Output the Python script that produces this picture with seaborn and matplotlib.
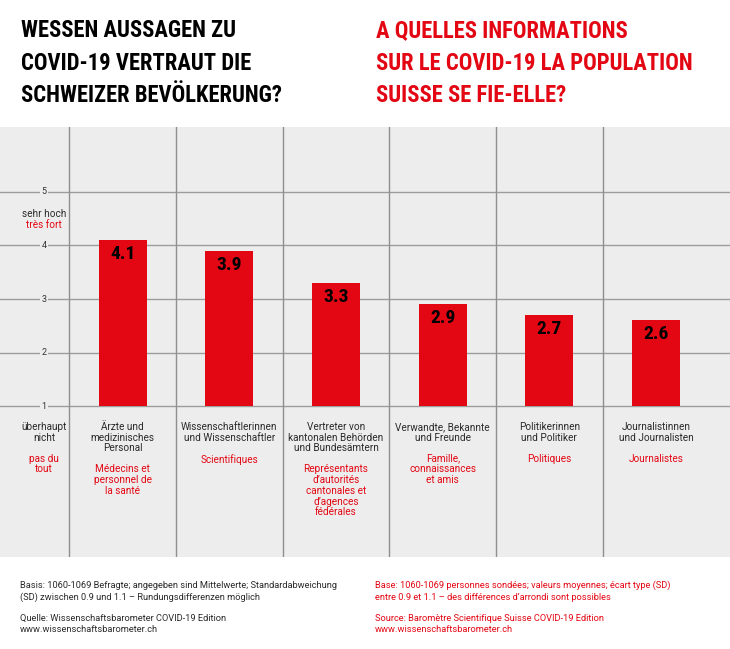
import numpy as np
import pandas as pd
import matplotlib
matplotlib.use("Agg")
import matplotlib.pyplot as plt
from matplotlib.patches import Rectangle
import seaborn as sns

# ---------------- data ----------------
categories = ["Ärzte", "Wissenschaft", "Behörden", "Verwandte", "Politik", "Journalismus"]
values = [4.1, 3.9, 3.3, 2.9, 2.7, 2.6]
labels_de = [
    "Ärzte und\nmedizinisches\nPersonal",
    "Wissenschaftlerinnen\nund Wissenschaftler",
    "Vertreter von\nkantonalen Behörden\nund Bundesämtern",
    "Verwandte, Bekannte\nund Freunde",
    "Politikerinnen\nund Politiker",
    "Journalistinnen\nund Journalisten",
]
labels_fr = [
    "Médecins et\npersonnel de\nla santé",
    "Scientifiques",
    "Représentants\nd’autorités\ncantonales et\nd’agences\nfédérales",
    "Famille,\nconnaissances\net amis",
    "Politiques",
    "Journalistes",
]
yticks = [1, 2, 3, 4, 5]
title_de = ["WESSEN AUSSAGEN ZU", "COVID-19 VERTRAUT DIE", "SCHWEIZER BEVÖLKERUNG?"]
title_fr = ["A QUELLES INFORMATIONS", "SUR LE COVID-19 LA POPULATION", "SUISSE SE FIE-ELLE?"]
note_de = ["Basis: 1060-1069 Befragte; angegeben sind Mittelwerte; Standardabweichung",
           "(SD) zwischen 0.9 und 1.1 – Rundungsdifferenzen möglich",
           "Quelle: Wissenschaftsbarometer COVID-19 Edition",
           "www.wissenschaftsbarometer.ch"]
note_fr = ["Base: 1060-1069 personnes sondées; valeurs moyennes; écart type (SD)",
           "entre 0.9 et 1.1 – des différences d’arrondi sont possibles",
           "Source: Baromètre Scientifique Suisse COVID-19 Edition",
           "www.wissenschaftsbarometer.ch"]

# ---------------- style ----------------
RED = "#E30613"
GRAY_BG = "#EDEDED"
DARK = "#2a2a2a"
plt.rcParams["font.family"] = ["Roboto", "DejaVu Sans"]
COND = ["Roboto Condensed", "Liberation Sans Narrow", "DejaVu Sans"]
LFS = 7.2

W, H = 730, 649
fig = plt.figure(figsize=(W / 100, H / 100), dpi=100)
fig.patch.set_facecolor("white")

top_px, bot_px = 127, 557
ax = fig.add_axes([0, (H - bot_px) / H, 1, (bot_px - top_px) / H])
ax.set_facecolor(GRAY_BG)

df = pd.DataFrame({"cat": categories, "val": values})
sns.barplot(data=df, x="cat", y="val", order=categories, color=RED, saturation=1,
            width=0.45, errorbar=None, ax=ax, zorder=3, edgecolor="none")

# axes geometry (pixel mapping)
step = 106.7
c0 = 122.6
ax.set_xlim(-c0 / step, (W - c0) / step)
ax.set_ylim(1 - (bot_px - 406.3) / 53.65, 5 + (191.7 - top_px) / 53.65)
for s in ax.spines.values():
    s.set_visible(False)
ax.set_xticks([])
ax.set_yticks([])
ax.set_xlabel("")
ax.set_ylabel("")

# bars start at baseline 1: clip everything below it
clip = Rectangle((-10, 1), 30, 20, transform=ax.transData)
for p in ax.patches:
    p.set_clip_path(clip)

# grid
for y in yticks:
    ax.axhline(y, color="#9c9c9c", lw=1.0, zorder=1)
for i in range(len(categories)):
    ax.axvline(i - 0.5, color="#8f8f8f", lw=1.0, zorder=1)

# y tick labels
ytr = ax.get_yaxis_transform()
xt = 44 / W
for y in yticks:
    ax.text(xt, y, str(y), transform=ytr, ha="center", va="center", fontsize=6.5,
            color="#333333", zorder=2,
            bbox=dict(boxstyle="square,pad=0.15", fc=GRAY_BG, ec="none"))
ax.annotate("sehr hoch", xy=(xt, 5), xycoords=ytr, xytext=(0, -17), textcoords="offset pixels",
            ha="center", va="top", fontsize=LFS, color=DARK)
ax.annotate("très fort", xy=(xt, 5), xycoords=ytr, xytext=(0, -28.5), textcoords="offset pixels",
            ha="center", va="top", fontsize=LFS, color=RED)

lh = 10.6
off0 = -15.5
ax.annotate("überhaupt\nnicht", xy=(xt, 1), xycoords=ytr, xytext=(0, off0), textcoords="offset pixels",
            ha="center", va="top", fontsize=LFS, color=DARK, linespacing=1.1)
ax.annotate("pas du\ntout", xy=(xt, 1), xycoords=ytr, xytext=(0, off0 - 3 * lh), textcoords="offset pixels",
            ha="center", va="top", fontsize=LFS, color=RED, linespacing=1.1)

# value labels and category labels
for i, (v, de, fr) in enumerate(zip(values, labels_de, labels_fr)):
    ax.text(i, v - 0.26, f"{v:.1f}", ha="center", va="center", fontsize=14,
            fontweight="bold", family=COND, fontstretch="condensed", color="black", zorder=4)
    n = de.count("\n") + 1
    ax.annotate(de, xy=(i, 1), xytext=(0, off0), textcoords="offset pixels",
                ha="center", va="top", fontsize=LFS, color=DARK, linespacing=1.1)
    ax.annotate(fr, xy=(i, 1), xytext=(0, off0 - (n + 1) * lh), textcoords="offset pixels",
                ha="center", va="top", fontsize=LFS, color=RED, linespacing=1.1)

# titles, fitted to reference widths
ys = [30.5, 63, 95.5]
tfs = 22
texts_de = [fig.text(21 / W, 1 - y / H, t, ha="left", va="center", fontsize=tfs,
                     fontweight="bold", family=COND, fontstretch="condensed", color="black")
            for t, y in zip(title_de, ys)]
texts_fr = [fig.text(376 / W, 1 - y / H, t, ha="left", va="center", fontsize=tfs,
                     fontweight="bold", family=COND, fontstretch="condensed", color=RED)
            for t, y in zip(title_fr, ys)]
fig.canvas.draw()
r = fig.canvas.get_renderer()
w_de = texts_de[2].get_window_extent(r).width
w_fr = texts_fr[1].get_window_extent(r).width
scale = min(266 / w_de, 317 / w_fr)
for t in texts_de + texts_fr:
    t.set_fontsize(tfs * scale)

# footnotes
ny = [585.7, 597.3, 618.3, 629.5]
for t, y in zip(note_de, ny):
    fig.text(20 / W, 1 - y / H, t, ha="left", va="center", fontsize=6.7, color=DARK)
for t, y in zip(note_fr, ny):
    fig.text(375 / W, 1 - y / H, t, ha="left", va="center", fontsize=6.7, color=RED)

fig.savefig("out.png", dpi=100, facecolor="white")
